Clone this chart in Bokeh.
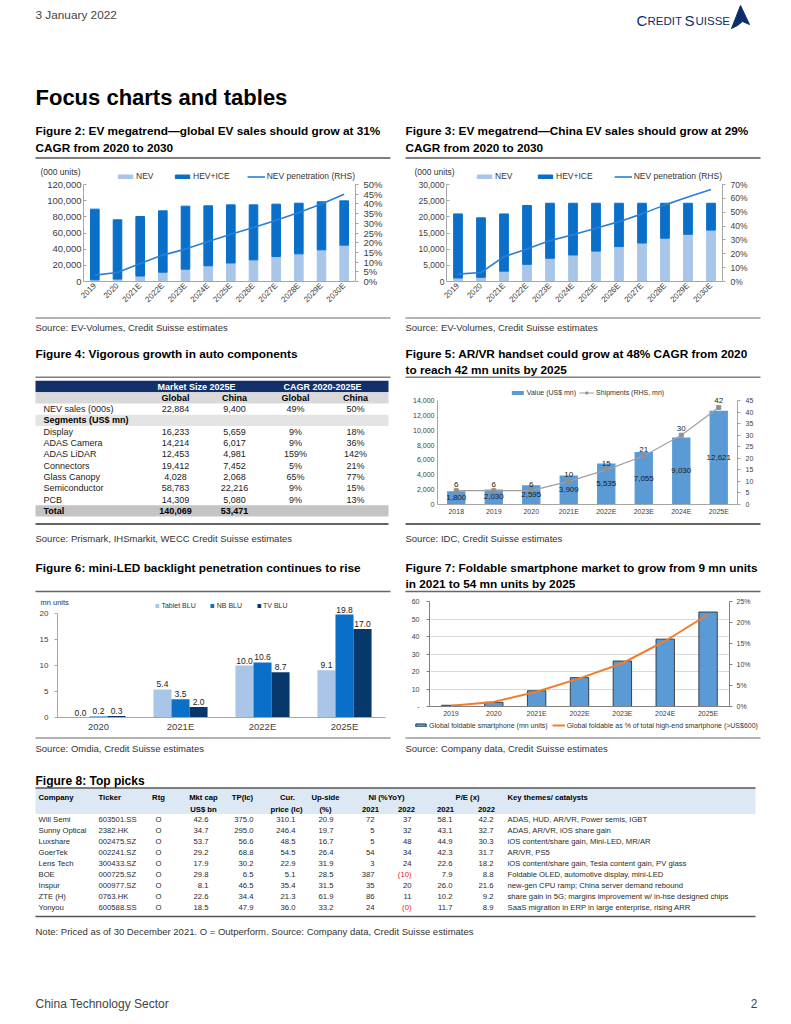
import math
from bokeh.plotting import figure
from bokeh.models import (Range1d, FactorRange, LinearAxis, FixedTicker, NumeralTickFormatter,
                          Legend, LegendItem, Title, ColumnDataSource)
from bokeh.layouts import column, row
from bokeh.embed import file_html
from bokeh.resources import INLINE
from bokeh.core.properties import value
from bokeh.transform import dodge

FONT = "Liberation Sans"
NAN = float("nan")

# ---------------- data ----------------
# Figure 2: global EV
GLB_YEARS = ["2019", "2020", "2021E", "2022E", "2023E", "2024E", "2025E", "2026E", "2027E", "2028E", "2029E", "2030E"]
GLB_NEV = [2100, 3000, 6800, 11500, 15300, 19400, 22900, 26800, 30900, 34200, 39200, 45000]
GLB_HEV_ICE = [87400, 73300, 73600, 75900, 77900, 74200, 71900, 68000, 64800, 62700, 59400, 54800]
GLB_PEN = [0.033, 0.046, 0.093, 0.136, 0.167, 0.206, 0.244, 0.278, 0.316, 0.356, 0.399, 0.450]
GLB_LEFT_TICKS = [0, 20000, 40000, 60000, 80000, 100000, 120000]
GLB_RIGHT_TICKS = [0, 0.05, 0.10, 0.15, 0.20, 0.25, 0.30, 0.35, 0.40, 0.45, 0.50]

# Figure 3: China EV
CN_YEARS = ["2019", "2020", "2021E", "2022E", "2023E", "2024E", "2025E", "2026E", "2027E", "2028E", "2029E", "2030E"]
CN_NEV = [1100, 1300, 3200, 5300, 7200, 8200, 9400, 10800, 11900, 13400, 14600, 15900]
CN_HEV_ICE = [19800, 18400, 17700, 18200, 17000, 16000, 14800, 13400, 12300, 10800, 9600, 8300]
CN_PEN = [0.053, 0.065, 0.179, 0.234, 0.295, 0.338, 0.384, 0.432, 0.488, 0.553, 0.609, 0.664]
CN_LEFT_TICKS = [0, 5000, 10000, 15000, 20000, 25000, 30000]
CN_RIGHT_TICKS = [0, 0.1, 0.2, 0.3, 0.4, 0.5, 0.6, 0.7]

# Figure 4: table
T4_GROUPS = ["Market Size 2025E", "CAGR 2020-2025E"]
T4_SUBHEAD = ["Global", "China", "Global", "China"]
T4_NEV_LABEL = "NEV sales (000s)"
T4_NEV = [22884, 9400, "49%", "50%"]
SEG_NAMES = ["Display", "ADAS Camera", "ADAS LiDAR", "Connectors", "Glass Canopy", "Semiconductor", "PCB"]
SEG_GLOBAL = [16233, 14214, 12453, 19412, 4028, 58783, 14309]
SEG_CHINA = [5659, 6017, 4981, 7452, 2068, 22216, 5080]
SEG_CAGR_GLOBAL = ["9%", "9%", "159%", "5%", "65%", "9%", "9%"]
SEG_CAGR_CHINA = ["18%", "36%", "142%", "21%", "77%", "15%", "13%"]
T4_TOTAL = [140069, 53471]

# Figure 5: AR/VR
AR_YEARS = ["2018", "2019", "2020", "2021E", "2022E", "2023E", "2024E", "2025E"]
AR_VALUE = [1800, 2030, 2595, 3909, 5535, 7055, 9030, 12621]
AR_SHIP = [6, 6, 6, 10, 15, 21, 30, 42]
AR_LEFT_TICKS = [0, 2000, 4000, 6000, 8000, 10000, 12000, 14000]
AR_RIGHT_TICKS = [0, 5, 10, 15, 20, 25, 30, 35, 40, 45]

# Figure 6: mini-LED
LED_YEARS = ["2020", "2021E", "2022E", "2025E"]
LED_SERIES = ["Tablet BLU", "NB BLU", "TV BLU"]
LED_TABLET = [0.0, 5.4, 10.0, 9.1]
LED_NB = [0.2, 3.5, 10.6, 19.8]
LED_TV = [0.3, 2.0, 8.7, 17.0]
LED_TICKS = [0, 5, 10, 15, 20]

# Figure 7: foldables
FOLD_YEARS = ["2019", "2020", "2021E", "2022E", "2023E", "2024E", "2025E"]
FOLD_UNITS = [0.7, 2.4, 9.0, 16.5, 26.0, 38.5, 54.0]
FOLD_PCT = [0.002, 0.011, 0.035, 0.067, 0.103, 0.156, 0.219]
FOLD_LEFT_TICKS = [0, 10, 20, 30, 40, 50, 60]
FOLD_RIGHT_TICKS = [0, 0.05, 0.10, 0.15, 0.20, 0.25]
FOLD_SERIES = ["Global foldable smartphone (mn units)",
               "Global foldable as % of total high-end smartphone (>US$600)"]

# Figure 8: top picks
COMPANIES = ["Will Semi", "Sunny Optical", "Luxshare", "GoerTek", "Lens Tech", "BOE", "Inspur", "ZTE (H)", "Yonyou"]
TICKERS = ["603501.SS", "2382.HK", "002475.SZ", "002241.SZ", "300433.SZ", "000725.SZ", "000977.SZ", "0763.HK", "600588.SS"]
RATINGS = ["O", "O", "O", "O", "O", "O", "O", "O", "O"]
MKT_CAP = [42.6, 34.7, 53.7, 29.2, 17.9, 29.8, 8.1, 22.6, 18.5]
TARGET = [375.0, 295.0, 56.6, 68.8, 30.2, 6.5, 46.5, 34.4, 47.9]
CUR_PRICE = [310.1, 246.4, 48.5, 54.5, 22.9, 5.1, 35.4, 21.3, 36.0]
UPSIDE = [20.9, 19.7, 16.7, 26.4, 31.9, 28.5, 31.5, 61.9, 33.2]
NI_2021 = [72, 5, 5, 54, 3, 387, 35, 86, 24]
NI_2022 = [37, 32, 48, 34, 24, -10, 20, 11, -0.3]
PE_2021 = [58.1, 43.1, 44.9, 42.3, 22.6, 7.9, 26.0, 10.2, 11.7]
PE_2022 = [42.2, 32.7, 30.3, 31.7, 18.2, 8.8, 21.6, 9.2, 8.9]
THEMES = ["ADAS, HUD, AR/VR, Power semis, IGBT",
          "ADAS, AR/VR, iOS share gain",
          "iOS content/share gain, Mini-LED, MR/AR",
          "AR/VR, PS5",
          "iOS content/share gain, Tesla content gain, PV glass",
          "Foldable OLED, automotive display, mini-LED",
          "new-gen CPU ramp; China server demand rebound",
          "share gain in 5G; margins improvement w/ in-hse designed chips",
          "SaaS migration in ERP in large enterprise, rising ARR"]

# logo sail outline (decorative)
LOGO_SAIL_X = [731, 740, 749, 742, 737]
LOGO_SAIL_Y = [28, 5, 24, 21, 25]

# ---------------- colours ----------------
NEV_C = "#a9c5e8"
HEV_C = "#0a6fc8"
PEN_C = "#2a80d6"
NAVY = "#13306b"
BAR5 = "#5b9bd5"
GREY_LINE = "#a6a6a6"
LED_C = ["#a9c5e8", "#0a6fc8", "#06386b"]
ORANGE = "#f07d2a"
TXT = "#333333"
TITLE_PX = 11.8
SRC_PX = 9.5


def canvas(x0, x1, y0, y1):
    p = figure(width=x1 - x0, height=y1 - y0, x_range=Range1d(x0, x1), y_range=Range1d(y1, y0),
               x_axis_type=None, y_axis_type=None, output_backend="svg", toolbar_location=None,
               title=None, min_border=0, outline_line_color=None, frame_align=False)
    return p


def txt(p, xs, ys, texts, size, color="#000000", bold=False, align="left"):
    p.text(x=xs, y=ys, text=texts, text_font=value(FONT), text_font_size=f"{size}px",
           text_font_style="bold" if bold else "normal", text_color=color,
           text_align=align, text_baseline="middle")


def hline(p, x0, x1, y, color="#777777", width=1.5):
    p.segment(x0=[x0], y0=[y], x1=[x1], y1=[y], line_color=color, line_width=width)


def base_chart(w, h, left, right, top, bottom, xr, yr):
    p = figure(width=w, height=h, x_range=xr, y_range=yr, output_backend="svg",
               toolbar_location=None, title=None, min_border_left=left, min_border_right=right,
               min_border_top=top, min_border_bottom=bottom, outline_line_color=None, frame_align=False)
    p.xgrid.visible = False
    p.ygrid.visible = False
    return p


def style_axis(ax, size, line=GREY_LINE, color="#404040", tick_in=0, tick_out=3, standoff=4):
    ax.major_label_text_font = FONT
    ax.major_label_text_font_size = f"{size}px"
    ax.major_label_text_color = color
    ax.axis_line_color = line
    ax.major_tick_line_color = line
    ax.minor_tick_line_color = None
    ax.major_tick_in = tick_in
    ax.major_tick_out = tick_out
    ax.major_label_standoff = standoff


def add_legend(p, items, loc, size, spacing, gw, gh, standoff=2):
    leg = Legend(items=[LegendItem(label=l, renderers=r) for l, r in items], orientation="horizontal",
                 location=loc, border_line_color=None, background_fill_alpha=0, padding=0, margin=0,
                 spacing=spacing, glyph_width=gw, glyph_height=gh, label_height=int(size) + 1,
                 label_standoff=standoff, label_text_font=FONT, label_text_font_size=f"{size}px",
                 label_text_color=TXT, label_text_baseline="middle")
    p.add_layout(leg, "center")


def unit_title(p, text, offset, standoff, size):
    p.add_layout(Title(text=text, align="left", offset=offset, standoff=standoff, text_font=FONT,
                       text_font_size=f"{size}px", text_font_style="normal", text_color=TXT,
                       vertical_align="bottom"), "above")


def ev_chart(years, nev, hev, pen, w, left, right, ymax, lticks, rmax, rticks, leg_sp, unit_x, tick_px):
    c_top, frame_top, data_top, frame_bot, c_bot = 160, 171, 184, 281, 316
    ext = (frame_bot - frame_top) / (frame_bot - data_top)
    p = base_chart(w, c_bot - c_top, left, right, frame_top - c_top, c_bot - frame_bot,
                   FactorRange(factors=years), Range1d(0, ymax * ext))
    p.extra_y_ranges = {"pen": Range1d(0, rmax * ext)}
    src = ColumnDataSource(dict(year=years, nev=nev, hev=hev, pen=pen))
    rs = p.vbar_stack(["nev", "hev"], x="year", width=0.38, color=[NEV_C, HEV_C], source=src)
    ln = p.line("year", "pen", y_range_name="pen", source=src, line_color=PEN_C, line_width=1.6)
    ly = p.yaxis[0]
    ly.ticker = FixedTicker(ticks=lticks)
    ly.formatter = NumeralTickFormatter(format="0,0")
    ly.bounds = (0, ymax)
    style_axis(ly, tick_px, tick_in=3, tick_out=0, standoff=2)
    ry = LinearAxis(y_range_name="pen", ticker=FixedTicker(ticks=rticks), bounds=(0, rmax),
                    formatter=NumeralTickFormatter(format="0%"))
    style_axis(ry, tick_px, tick_out=3, standoff=5)
    p.add_layout(ry, "right")
    bx = p.xaxis[0]
    style_axis(bx, 8, tick_out=0, standoff=3)
    bx.major_tick_line_color = None
    bx.major_label_orientation = math.pi / 4
    add_legend(p, [("NEV", [rs[0]]), ("HEV+ICE", [rs[1]]), ("NEV penetration (RHS)", [ln])],
               "top_right", 8.5, leg_sp, 18, 5)
    unit_title(p, "(000 units)", unit_x - left, -10, 8.5)
    return p


# ---------------- band 1: header ----------------
b1 = canvas(0, 783, 0, 160)
txt(b1, [35], [14], ["3 January 2022"], 11.8, color="#444444")
b1.text(x=[636, 647, 684, 695], y=[20, 20.5, 20, 20.5], text=["C", "REDIT", "S", "UISSE"],
        text_font=value(FONT), text_font_size=["15px", "11.5px", "15px", "11.5px"],
        text_color="#0b2d6b", text_baseline="middle")
b1.patch(LOGO_SAIL_X, LOGO_SAIL_Y, fill_color="#0b2d6b", line_color="#0b2d6b")
txt(b1, [35], [97], ["Focus charts and tables"], 22, bold=True)
txt(b1, [35, 35, 405, 405], [130, 147.5, 130, 147.5],
    ["Figure 2: EV megatrend\u2014global EV sales should grow at 31%", "CAGR from 2020 to 2030",
     "Figure 3: EV megatrend\u2014China EV sales should grow at 29%", "CAGR from 2020 to 2030"], TITLE_PX, bold=True)
hline(b1, 35, 390, 157.5, color="#7f7f7f", width=2)
hline(b1, 405, 760, 157.5, color="#7f7f7f", width=2)

# ---------------- band 2: EV charts ----------------
p2 = ev_chart(GLB_YEARS, GLB_NEV, GLB_HEV_ICE, GLB_PEN, 398, 83, 43, 120000, GLB_LEFT_TICKS, 0.5,
              GLB_RIGHT_TICKS, 17, 40, 9.5)
p3 = ev_chart(CN_YEARS, CN_NEV, CN_HEV_ICE, CN_PEN, 385, 48, 61, 30000, CN_LEFT_TICKS, 0.7,
              CN_RIGHT_TICKS, 21, 16, 8.5)

# ---------------- band 3 ----------------
b3 = canvas(0, 783, 316, 378)
hline(b3, 35, 390, 317.5, color="#666666", width=1)
hline(b3, 405, 760, 317.5, color="#666666", width=1)
txt(b3, [35, 405], [327, 327], ["Source: EV-Volumes, Credit Suisse estimates"] * 2, SRC_PX, color=TXT)
txt(b3, [35, 405, 405], [353, 353, 369.5],
    ["Figure 4: Vigorous growth in auto components",
     "Figure 5: AR/VR handset could grow at 48% CAGR from 2020",
     "to reach 42 mn units by 2025"], TITLE_PX, bold=True)
hline(b3, 35, 390, 376.8, color="#7f7f7f", width=1.5)
hline(b3, 405, 760, 376.8, color="#7f7f7f", width=1.5)

# ---------------- band 4: table 4 + chart 5 ----------------
t4 = canvas(0, 398, 378, 520)
T4_Y0, T4_STEP = 386.0, 11.3
ys = [T4_Y0 + i * T4_STEP for i in range(12)]
band_rows = [0, 1, 3, 11]
band_cols = [NAVY, "#d9d9d9", "#e4e4e4", "#c4c4c4"]
t4.quad(left=[35] * 4, right=[388] * 4, top=[ys[i] - T4_STEP / 2 for i in band_rows],
        bottom=[ys[i] + T4_STEP / 2 for i in band_rows], fill_color=band_cols, line_color=None)
COLX = [175, 234, 295, 355]
TS = 9
txt(t4, [196, 322], [ys[0]] * 2, T4_GROUPS, TS, color="#ffffff", bold=True, align="center")
txt(t4, COLX, [ys[1]] * 4, T4_SUBHEAD, TS, bold=True, align="center")
txt(t4, [43], [ys[2]], [T4_NEV_LABEL], TS, color="#222222")
txt(t4, COLX, [ys[2]] * 4, [f"{T4_NEV[0]:,}", f"{T4_NEV[1]:,}", T4_NEV[2], T4_NEV[3]], TS,
    color="#222222", align="center")
txt(t4, [43], [ys[3]], ["Segments (US$ mn)"], TS, bold=True)
seg_y = ys[4:11]
txt(t4, [43] * len(SEG_NAMES), seg_y, SEG_NAMES, TS, color="#222222")
txt(t4, [COLX[0]] * 7, seg_y, [f"{v:,}" for v in SEG_GLOBAL], TS, color="#222222", align="center")
txt(t4, [COLX[1]] * 7, seg_y, [f"{v:,}" for v in SEG_CHINA], TS, color="#222222", align="center")
txt(t4, [COLX[2]] * 7, seg_y, SEG_CAGR_GLOBAL, TS, color="#222222", align="center")
txt(t4, [COLX[3]] * 7, seg_y, SEG_CAGR_CHINA, TS, color="#222222", align="center")
txt(t4, [43], [ys[11]], ["Total"], TS, bold=True)
txt(t4, COLX[:2], [ys[11]] * 2, [f"{v:,}" for v in T4_TOTAL], TS, bold=True, align="center")

c5_top, f5_top, d5_top, f5_bot, c5_bot = 378, 388, 400, 504, 520
ext5 = (f5_bot - f5_top) / (f5_bot - d5_top)
p5 = base_chart(385, c5_bot - c5_top, 39, 46, f5_top - c5_top, c5_bot - f5_bot,
                FactorRange(factors=AR_YEARS), Range1d(0, 14000 * ext5))
p5.extra_y_ranges = {"ship": Range1d(0, 45 * ext5)}
src5 = ColumnDataSource(dict(year=AR_YEARS, val=AR_VALUE, ship=AR_SHIP,
                             mid=[v / 2 for v in AR_VALUE], vlab=[f"{v:,}" for v in AR_VALUE],
                             slab=[str(v) for v in AR_SHIP]))
r5b = p5.vbar(x="year", top="val", width=0.49, fill_color=BAR5, line_color=None, source=src5)
r5l = p5.line("year", "ship", y_range_name="ship", line_color="#a0a0a0", line_width=1.2, source=src5)
r5m = p5.scatter("year", "ship", y_range_name="ship", marker="square", size=4, color="#909090", source=src5)
p5.text(x="year", y="mid", text="vlab", source=src5, text_font=value(FONT), text_font_size="8px",
        text_color="#1a1a1a", text_align="center", text_baseline="middle")
p5.text(x="year", y="ship", text="slab", y_range_name="ship", y_offset=-4, source=src5,
        text_font=value(FONT), text_font_size="8px", text_color="#1a1a1a", text_align="center",
        text_baseline="bottom")
ly5 = p5.yaxis[0]
ly5.ticker = FixedTicker(ticks=AR_LEFT_TICKS)
ly5.formatter = NumeralTickFormatter(format="0,0")
ly5.bounds = (0, 14000)
style_axis(ly5, 7, tick_out=0, standoff=3)
ry5 = LinearAxis(y_range_name="ship", ticker=FixedTicker(ticks=AR_RIGHT_TICKS), bounds=(0, 45))
style_axis(ry5, 7, tick_out=3, standoff=5)
p5.add_layout(ry5, "right")
bx5 = p5.xaxis[0]
style_axis(bx5, 7, tick_out=0, standoff=3)
bx5.major_tick_line_color = None
add_legend(p5, [("Value (US$ mn)", [r5b]), ("Shipments (RHS, mn)", [r5l, r5m])], "top_center", 7, 3, 15, 5)

# ---------------- band 5 ----------------
b5 = canvas(0, 783, 520, 594)
hline(b5, 35, 388, 523.5, color="#333333", width=1.5)
hline(b5, 405, 760, 523.5, color="#333333", width=1.5)
txt(b5, [35, 405], [538, 538],
    ["Source: Prismark, IHSmarkit, WECC Credit Suisse estimates", "Source: IDC, Credit Suisse estimates"],
    SRC_PX, color=TXT)
txt(b5, [35, 405, 405], [567, 567, 583.5],
    ["Figure 6: mini-LED backlight penetration continues to rise",
     "Figure 7: Foldable smartphone market to grow from 9 mn units",
     "in 2021 to 54 mn units by 2025"], TITLE_PX, bold=True)
hline(b5, 35, 390, 591, color="#666666", width=1.5)
hline(b5, 405, 760, 591, color="#666666", width=1.5)

# ---------------- band 6: charts 6 & 7 ----------------
c6_top, f6_top, d6_top, f6_bot, c6_bot = 594, 601, 613, 717, 734
ext6 = (f6_bot - f6_top) / (f6_bot - d6_top)
p6 = base_chart(398, c6_bot - c6_top, 57, 13, f6_top - c6_top, c6_bot - f6_bot,
                FactorRange(factors=LED_YEARS), Range1d(0, 20 * ext6))
src6 = ColumnDataSource(dict(year=LED_YEARS, tab=LED_TABLET, nb=LED_NB, tv=LED_TV,
                             tab_l=[f"{v:.1f}" for v in LED_TABLET], nb_l=[f"{v:.1f}" for v in LED_NB],
                             tv_l=[f"{v:.1f}" for v in LED_TV]))
rends6 = []
for off, col, lab, c in [(-0.22, "tab", "tab_l", LED_C[0]), (0.0, "nb", "nb_l", LED_C[1]),
                         (0.22, "tv", "tv_l", LED_C[2])]:
    xs = dodge("year", off, range=p6.x_range)
    rends6.append(p6.vbar(x=xs, top=col, width=0.22, fill_color=c, line_color=None, source=src6))
    p6.text(x=xs, y=col, text=lab, y_offset=-2, source=src6, text_font=value(FONT), text_font_size="8.5px",
            text_color="#222222", text_align="center", text_baseline="bottom")
ly6 = p6.yaxis[0]
ly6.ticker = FixedTicker(ticks=LED_TICKS)
ly6.bounds = (0, 20)
style_axis(ly6, 8, tick_out=3, standoff=6)
bx6 = p6.xaxis[0]
style_axis(bx6, 9.5, tick_out=0, standoff=3)
bx6.major_tick_line_color = None
add_legend(p6, list(zip(LED_SERIES, [[r] for r in rends6])), "top_center", 7, 14, 5, 5)
unit_title(p6, "mn units", -17, -11, 7.5)

# chart 7: plot area, with its legend in a strip just below it
c7_top, c7_split, c7_bot = 594, 719, 734
p7 = base_chart(385, c7_split - c7_top, 31, 54, 7, 12, FactorRange(factors=FOLD_YEARS), Range1d(0, 60))
p7.extra_y_ranges = {"pct": Range1d(0, 0.25)}
p7.ygrid.visible = True
p7.ygrid.grid_line_color = "#d9d9d9"
src7 = ColumnDataSource(dict(year=FOLD_YEARS, units=FOLD_UNITS, pct=FOLD_PCT))
BAR7 = dict(fill_color=BAR5, line_color="#1f1f1f", line_width=0.8)
LINE7 = dict(line_color=ORANGE, line_width=2)
r7b = p7.vbar(x="year", top="units", width=0.43, source=src7, **BAR7)
r7l = p7.line("year", "pct", y_range_name="pct", source=src7, **LINE7)
ly7 = p7.yaxis[0]
ly7.ticker = FixedTicker(ticks=FOLD_LEFT_TICKS)
ly7.major_label_overrides = {0: "-"}
style_axis(ly7, 7, line="#808080", tick_out=3, standoff=7)
p7.ygrid.ticker = FixedTicker(ticks=FOLD_LEFT_TICKS)
ry7 = LinearAxis(y_range_name="pct", ticker=FixedTicker(ticks=FOLD_RIGHT_TICKS),
                 formatter=NumeralTickFormatter(format="0%"))
style_axis(ry7, 7, line="#808080", tick_out=3, standoff=4)
p7.add_layout(ry7, "right")
bx7 = p7.xaxis[0]
style_axis(bx7, 7, line="#808080", tick_out=0, standoff=3)
bx7.major_tick_line_color = None

# legend strip: key glyphs styled like the chart's renderers (no visible data of their own)
leg7 = figure(width=385, height=c7_bot - c7_split, x_range=Range1d(0, 1), y_range=Range1d(0, 1),
              x_axis_type=None, y_axis_type=None, output_backend="svg", toolbar_location=None,
              title=None, min_border=0, outline_line_color=None, frame_align=False)
k7b = leg7.vbar(x=[NAN], top=[NAN], width=0.1, **BAR7)
k7l = leg7.line(x=[NAN, NAN], y=[NAN, NAN], **LINE7)
add_legend(leg7, [(FOLD_SERIES[0], [k7b]), (FOLD_SERIES[1], [k7l])], (16, 5), 7, 4, 13, 4)

# ---------------- band 7: table 8 and footer ----------------
b7 = canvas(0, 783, 734, 1016)
hline(b7, 35, 390, 737.5, color="#666666", width=1)
hline(b7, 405, 760, 737.5, color="#666666", width=1)
txt(b7, [35, 405], [748, 748],
    ["Source: Omdia, Credit Suisse estimates", "Source: Company data, Credit Suisse estimates"], SRC_PX, color=TXT)
txt(b7, [35], [780], ["Figure 8: Top picks"], 12, bold=True)
b7.quad(left=[35], right=[755], top=[788], bottom=[813.5], fill_color="#dce8f4", line_color=None)
hline(b7, 35, 755, 787.5, color="#555555", width=1.5)
HS = 7.7
txt(b7, [38, 98], [797, 797], ["Company", "Ticker"], HS, bold=True)
txt(b7, [158, 203, 242, 287, 325, 386, 467], [797] * 7,
    ["Rtg", "Mkt cap", "TP(lc)", "Cur.", "Up-side", "NI (%YoY)", "P/E (x)"], HS, bold=True, align="center")
txt(b7, [507], [797], ["Key themes/ catalysts"], HS, bold=True)
txt(b7, [203, 286, 325, 370, 406, 445, 486], [808.5] * 7,
    ["US$ bn", "price (lc)", "(%)", "2021", "2022", "2021", "2022"], HS, bold=True, align="center")
R0, RS = 819.3, 10.93
ry8 = [R0 + i * RS for i in range(len(COMPANIES))]
DS = 7.7
DC = "#2a2a2a"
txt(b7, [38] * 9, ry8, COMPANIES, DS, color=DC)
txt(b7, [98] * 9, ry8, TICKERS, DS, color=DC)
txt(b7, [158] * 9, ry8, RATINGS, DS, color=DC, align="center")
txt(b7, [208] * 9, ry8, [f"{v:.1f}" for v in MKT_CAP], DS, color=DC, align="right")
txt(b7, [253] * 9, ry8, [f"{v:.1f}" for v in TARGET], DS, color=DC, align="right")
txt(b7, [295] * 9, ry8, [f"{v:.1f}" for v in CUR_PRICE], DS, color=DC, align="right")
txt(b7, [333] * 9, ry8, [f"{v:.1f}" for v in UPSIDE], DS, color=DC, align="right")
txt(b7, [374] * 9, ry8, [f"{v:d}" for v in NI_2021], DS, color=DC, align="right")
ni22_txt = [f"({abs(round(v))})" if v < 0 else f"{v:d}" for v in NI_2022]
ni22_col = ["#e8171f" if v < 0 else DC for v in NI_2022]
b7.text(x=[411] * 9, y=ry8, text=ni22_txt, text_color=ni22_col, text_font=value(FONT),
        text_font_size=f"{DS}px", text_align="right", text_baseline="middle")
txt(b7, [452] * 9, ry8, [f"{v:.1f}" for v in PE_2021], DS, color=DC, align="right")
txt(b7, [493] * 9, ry8, [f"{v:.1f}" for v in PE_2022], DS, color=DC, align="right")
txt(b7, [507] * 9, ry8, THEMES, DS, color=DC)
hline(b7, 35, 755, 916, color="#555555", width=1.5)
txt(b7, [35], [931], ["Note: Priced as of 30 December 2021. O = Outperform. Source: Company data, Credit Suisse estimates"],
    SRC_PX, color=TXT)
txt(b7, [35], [1003], ["China Technology Sector"], 12, color="#444444")
txt(b7, [757], [1003], ["2"], 12, color="#444444", align="right")

layout = column(b1, row(p2, p3), b3, row(t4, p5), b5, row(p6, column(p7, leg7)), b7)

with open("out.html", "w") as f:
    f.write(file_html(layout, INLINE))
